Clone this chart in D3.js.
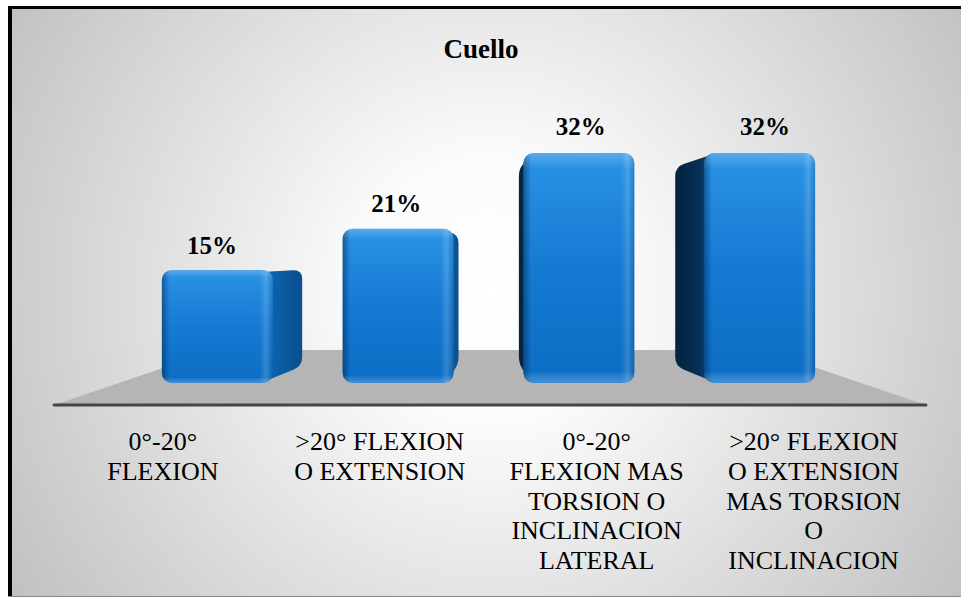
<!DOCTYPE html>
<html>
<head>
<meta charset="utf-8">
<script src="https://cdn.jsdelivr.net/npm/d3@7"></script>
</head>
<body style="margin:0">
<svg id="fig" width="961" height="597" style="display:block"></svg>
<script>
// ---- data ----
const chartTitle = "Cuello";
const categories = [
  "0°-20° FLEXION",
  ">20° FLEXION O EXTENSION",
  "0°-20° FLEXION MAS TORSION O INCLINACION LATERAL",
  ">20° FLEXION O EXTENSION MAS TORSION O INCLINACION"
];
const values = [15, 21, 32, 32];
const valueLabels = values.map(v => v + "%");

// ---- layout ----
const W = 961, H = 597;
const FONT = "Times New Roman";
const svg = d3.select("#fig");
const defs = svg.append("defs");

// simple one-point perspective: world coords are measured on the bars' front plane (k = 1)
const vp = { x: 490, y: 257 };
const kBack = 0.865, kFloorFront = 1.175, kFloorBack = 0.738, kValueLabel = 1.02, kAxisLabel = 1.2;
const floorY = 383;
const floorX = [119, 861];
const proj = (px, py, k) => [vp.x + (px - vp.x) * k, vp.y + (py - vp.y) * k];

const x = d3.scaleBand().domain(categories).range([127, 850]).paddingInner(0.386).paddingOuter(0.193);
const y = d3.scaleLinear().domain([0, 32]).range([373, 153]);

// ---- gradients ----
function stops(grad, list) {
  list.forEach(([o, c, a]) => grad.append("stop").attr("offset", o).attr("stop-color", c).attr("stop-opacity", a == null ? 1 : a));
}
stops(defs.append("radialGradient").attr("id", "bg").attr("gradientUnits", "userSpaceOnUse")
  .attr("cx", 490).attr("cy", 290).attr("r", 600),
  [[0, "#ffffff"], [0.22, "#fbfbfb"], [1, "#bcbcbc"]]);
stops(defs.append("linearGradient").attr("id", "front").attr("x1", 0).attr("y1", 0).attr("x2", 0).attr("y2", 1),
  [[0, "#2a93e6"], [0.5, "#167ad3"], [1, "#0b6cc2"]]);
stops(defs.append("linearGradient").attr("id", "frontBevel").attr("x1", 0).attr("y1", 0).attr("x2", 1).attr("y2", 0),
  [[0, "#001a3a", 0.45], [0.07, "#001a3a", 0], [0.88, "#ffffff", 0], [0.94, "#ffffff", 0.16], [1, "#001a3a", 0.15]]);
stops(defs.append("linearGradient").attr("id", "frontTop").attr("x1", 0).attr("y1", 0).attr("x2", 0).attr("y2", 1),
  [[0, "#ffffff", 0.22], [0.07, "#ffffff", 0], [0.95, "#ffffff", 0], [1, "#9fd0ff", 0.35]]);
stops(defs.append("linearGradient").attr("id", "sideRight").attr("x1", 0).attr("y1", 0).attr("x2", 1).attr("y2", 0),
  [[0, "#1a74c6"], [0.3, "#0d61ad"], [1, "#0a4e8e"]]);
stops(defs.append("linearGradient").attr("id", "sideLeft").attr("x1", 0).attr("y1", 0).attr("x2", 1).attr("y2", 0),
  [[0, "#04223f"], [0.6, "#063056"], [1, "#0c5aa0"]]);

// ---- background & frame ----
svg.append("rect").attr("x", 8).attr("y", 6).attr("width", W - 8).attr("height", H - 6).attr("fill", "url(#bg)");
svg.append("rect").attr("x", 8).attr("y", 6).attr("width", 4).attr("height", H - 6).attr("fill", "#000");
svg.append("rect").attr("x", 8).attr("y", 6).attr("width", W - 8).attr("height", 3).attr("fill", "#000");
svg.append("rect").attr("x", 8).attr("y", H - 1).attr("width", W - 8).attr("height", 1).attr("fill", "#8a8a8a");

// ---- floor ----
const floorPts = [
  proj(floorX[0], floorY, kFloorFront), proj(floorX[1], floorY, kFloorFront),
  proj(floorX[1], floorY, kFloorBack), proj(floorX[0], floorY, kFloorBack)
];
svg.append("path").attr("d", d3.line()(floorPts) + "Z").attr("fill", "#b5b5b5");
svg.append("line")
  .attr("x1", floorPts[0][0]).attr("y1", floorPts[0][1])
  .attr("x2", floorPts[1][0]).attr("y2", floorPts[1][1])
  .attr("stroke", "#454545").attr("stroke-width", 3).attr("stroke-linecap", "round");

// polygon with softened corners
function roundedPath(pts, r) {
  const n = pts.length; let d = "";
  for (let i = 0; i < n; i++) {
    const p0 = pts[(i - 1 + n) % n], p1 = pts[i], p2 = pts[(i + 1) % n];
    const v1 = [p0[0] - p1[0], p0[1] - p1[1]], v2 = [p2[0] - p1[0], p2[1] - p1[1]];
    const l1 = Math.hypot(v1[0], v1[1]), l2 = Math.hypot(v2[0], v2[1]);
    const rr = Math.min(r, l1 / 2, l2 / 2);
    const a = [p1[0] + v1[0] / l1 * rr, p1[1] + v1[1] / l1 * rr];
    const b = [p1[0] + v2[0] / l2 * rr, p1[1] + v2[1] / l2 * rr];
    d += (i === 0 ? "M" : "L") + a[0] + "," + a[1] + "Q" + p1[0] + "," + p1[1] + " " + b[0] + "," + b[1];
  }
  return d + "Z";
}

// ---- bars ----
const data = categories.map((c, i) => ({ cat: c, value: values[i], label: valueLabels[i] }));
const rx = 10, overlap = 12;

const bars = svg.append("g").selectAll("g").data(data).join("g");
bars.each(function (d) {
  const g = d3.select(this);
  const x0 = x(d.cat), x1 = x0 + x.bandwidth();
  const yt = y(d.value), yb = floorY;
  const cx = (x0 + x1) / 2;
  const B = (px, py) => proj(px, py, kBack);

  if (cx < vp.x) {
    // inner right side face
    g.append("path").attr("fill", "url(#sideRight)")
      .attr("d", roundedPath([[x1 - overlap, yt + 2], B(x1, yt + 2), B(x1, yb), [x1 - overlap, yb]], 9));
  } else {
    // inner left side face
    g.append("path").attr("fill", "url(#sideLeft)")
      .attr("d", roundedPath([B(x0, yt), [x0 + overlap, yt], [x0 + overlap, yb], B(x0, yb)], 9));
  }
  g.append("rect").attr("x", x0).attr("y", yt).attr("width", x1 - x0).attr("height", yb - yt)
    .attr("rx", rx).attr("fill", "url(#front)");
  g.append("rect").attr("x", x0).attr("y", yt).attr("width", x1 - x0).attr("height", yb - yt)
    .attr("rx", rx).attr("fill", "url(#frontBevel)");
  g.append("rect").attr("x", x0).attr("y", yt).attr("width", x1 - x0).attr("height", yb - yt)
    .attr("rx", rx).attr("fill", "url(#frontTop)");
});

// ---- value labels ----
svg.append("g").selectAll("text").data(data).join("text")
  .attr("x", d => proj(x(d.cat) + x.bandwidth() / 2, y(d.value), kValueLabel)[0])
  .attr("y", d => proj(x(d.cat) + x.bandwidth() / 2, y(d.value), kValueLabel)[1] - 16)
  .attr("text-anchor", "middle")
  .attr("font-size", 25).attr("font-weight", "bold").attr("fill", "#000")
  .style("font-family", FONT)
  .text(d => d.label);

// ---- category labels (wrapped) ----
const lineH = 29.75, firstBaseline = 450, wrapWidth = 181;
const catText = svg.append("g").selectAll("text").data(categories).join("text")
  .attr("text-anchor", "middle")
  .attr("font-size", 26).attr("fill", "#000")
  .style("font-family", FONT)
  .attr("x", c => proj(x(c) + x.bandwidth() / 2, floorY, kAxisLabel)[0])
  .attr("y", firstBaseline);

catText.each(function (c) {
  const t = d3.select(this);
  const cxl = +t.attr("x");
  const words = c.split(/\s+/);
  const probe = t.append("tspan");
  const lines = [];
  let line = [];
  for (const w of words) {
    line.push(w);
    probe.text(line.join(" "));
    if (probe.node().getComputedTextLength() > wrapWidth && line.length > 1) {
      line.pop();
      lines.push(line.join(" "));
      line = [w];
    }
  }
  lines.push(line.join(" "));
  probe.remove();
  lines.forEach((l, i) => t.append("tspan").attr("x", cxl).attr("dy", i ? lineH : 0).text(l));
});

// ---- title ----
svg.append("text").attr("x", 481).attr("y", 58).attr("text-anchor", "middle")
  .attr("font-size", 27).attr("font-weight", "bold").attr("fill", "#000")
  .style("font-family", FONT)
  .text(chartTitle);
</script>
</body>
</html>
